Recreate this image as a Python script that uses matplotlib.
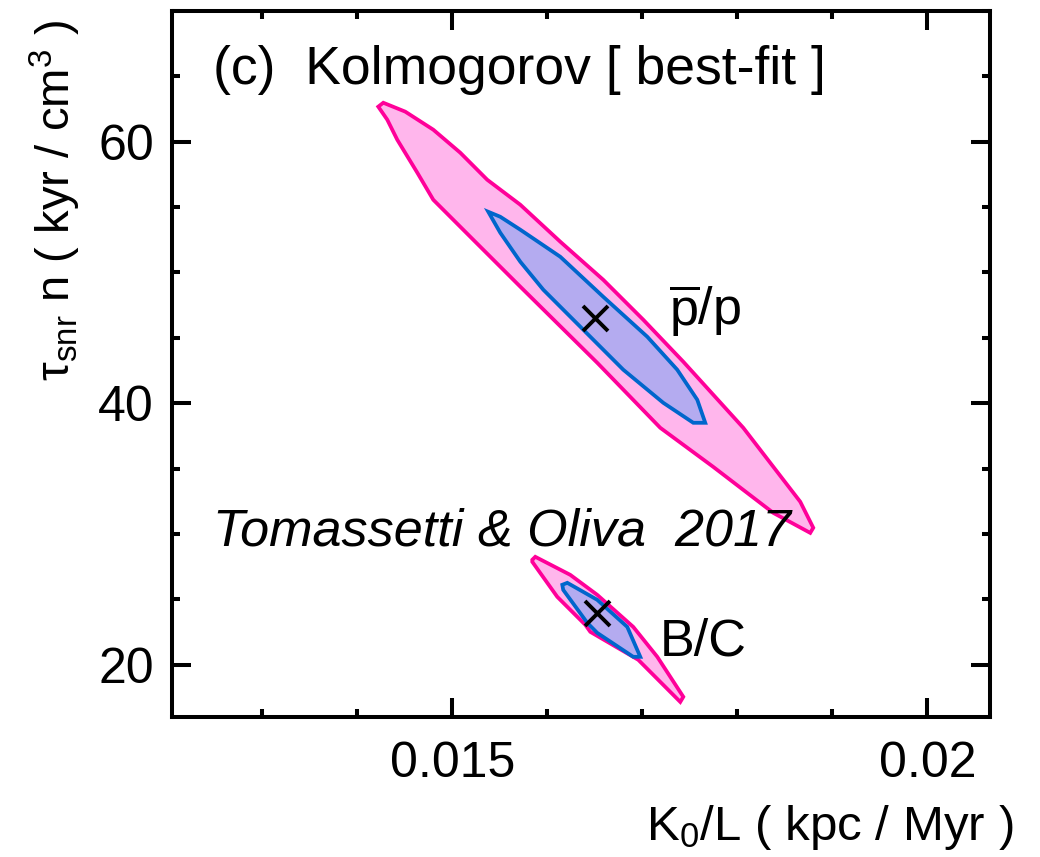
import numpy as np
import matplotlib.pyplot as plt
from matplotlib.ticker import MultipleLocator

plt.rcParams['font.family'] = ['Liberation Sans', 'DejaVu Sans']
plt.rcParams['mathtext.fontset'] = 'custom'
plt.rcParams['mathtext.rm'] = 'Liberation Sans'
plt.rcParams['mathtext.it'] = 'Liberation Sans:italic'

# pbar/p contours (K0/L, tau n)
pbar_outer_x = [0.014221, 0.014274, 0.014505, 0.014800, 0.015084, 0.015368, 0.015716,
                0.016137, 0.016589, 0.017011, 0.017432, 0.018063, 0.018347, 0.018663,
                0.018800, 0.018768, 0.018379, 0.017747, 0.017189, 0.016526, 0.015716,
                0.015221, 0.014800, 0.014632, 0.014421, 0.014316]
pbar_outer_y = [62.68, 62.98, 62.30, 60.92, 59.16, 57.09, 55.18, 52.35, 49.44, 46.38,
                43.17, 38.12, 35.44, 32.46, 30.47, 30.08, 31.61, 35.13, 38.12, 43.09,
                48.91, 52.50, 55.56, 57.63, 60.15, 61.68]
pbar_inner_x = [0.015379, 0.015505, 0.015716, 0.016137, 0.016589, 0.017053, 0.017368,
                0.017579, 0.017663, 0.017537, 0.017221, 0.016800, 0.016379, 0.015958,
                0.015716, 0.015505]
pbar_inner_y = [54.64, 54.26, 53.27, 51.20, 48.14, 45.08, 42.56, 40.26, 38.50, 38.50,
                40.03, 42.56, 45.62, 48.68, 50.82, 53.04]
pbar_best = (0.016505, 46.5)

# B/C contours
bc_outer_x = [0.015842, 0.015874, 0.016242, 0.016526, 0.016905, 0.017158, 0.017432,
              0.017400, 0.016958, 0.016453, 0.016400, 0.016105, 0.015842]
bc_outer_y = [28.02, 28.25, 26.87, 25.34, 22.89, 20.60, 17.54, 17.15, 20.37, 22.51,
              23.05, 25.19, 27.87]
bc_inner_x = [0.016158, 0.016211, 0.016526, 0.016842, 0.016979, 0.016905, 0.016526,
              0.016421, 0.016168]
bc_inner_y = [26.11, 26.26, 24.96, 22.89, 20.60, 20.60, 22.43, 23.20, 25.72]
bc_best = (0.01652, 23.96)

pink_fill = '#ffb6ec'
pink_edge = '#ff0099'
blue_fill = '#b4abf0'
blue_edge = '#0066cc'

fig = plt.figure(figsize=(10.4, 8.57), dpi=100)
ax = fig.add_axes([0.1654, 0.1634, 0.7865, 0.8238])

for ox, oy, ix, iy in [(pbar_outer_x, pbar_outer_y, pbar_inner_x, pbar_inner_y),
                       (bc_outer_x, bc_outer_y, bc_inner_x, bc_inner_y)]:
    ax.fill(ox, oy, facecolor=pink_fill, edgecolor=pink_edge, lw=2.7, joinstyle='miter')
    ax.fill(ix, iy, facecolor=blue_fill, edgecolor=blue_edge, lw=2.7, joinstyle='miter')

for bx, by in [pbar_best, bc_best]:
    ax.plot(bx, by, 'kx', markersize=18, mew=2.8)

ax.set_xlim(0.01205, 0.02066)
ax.set_ylim(16.0, 70.0)

ax.xaxis.set_minor_locator(MultipleLocator(0.001))
ax.yaxis.set_minor_locator(MultipleLocator(5))
ax.set_xticks([0.015, 0.02])
ax.set_xticklabels(['0.015', '0.02'])
ax.set_yticks([20, 40, 60])
ax.set_yticklabels(['20', '40', '60'])

ax.tick_params(which='both', direction='in', top=True, right=True, width=2.9)
ax.tick_params(which='major', length=14, labelsize=36)
ax.tick_params(which='minor', length=6)
ax.tick_params(axis='x', which='major', pad=17)
ax.tick_params(axis='y', which='major', pad=13)
for s in ax.spines.values():
    s.set_linewidth(2.9)

ax.text(0.05, 0.916, '(c)  Kolmogorov [ best-fit ]', transform=ax.transAxes,
        fontsize=38.5, va='center', ha='left')
ax.text(0.05, 0.262, 'Tomassetti & Oliva  2017', transform=ax.transAxes,
        fontsize=37.5, va='center', ha='left', style='italic')
ax.text(0.01728, 47.1, r'$\overline{\rm p}$/p', fontsize=37.5, va='center', ha='left')
ax.text(0.01718, 21.7, 'B/C', fontsize=37.5, va='center', ha='left')

fig.text(0.974, 0.035, r'K$_0$/L ( kpc / Myr )', fontsize=35.5, ha='right', va='center')
fig.text(0.053, 0.977, 'τ$_{\\rm snr}$ n ( kyr / cm$^3$ )', fontsize=34,
         rotation=90, ha='center', va='top')

fig.savefig('out.png', dpi=100)
